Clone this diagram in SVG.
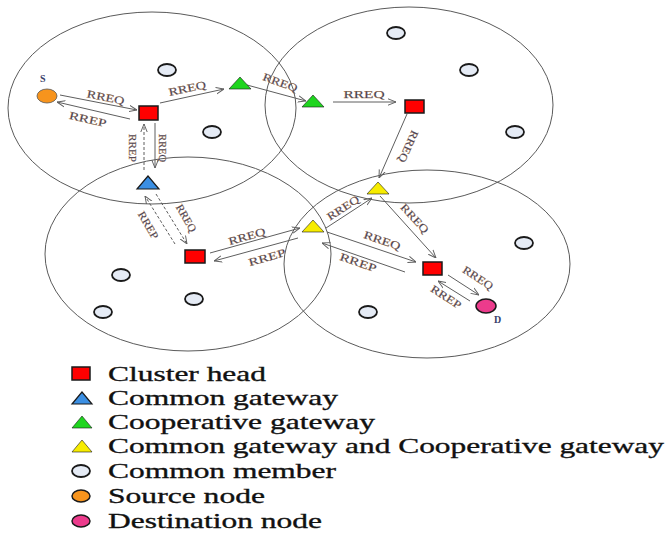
<svg xmlns="http://www.w3.org/2000/svg" width="666" height="534" viewBox="0 0 666 534">
  <style>
    .cluster { fill: none; stroke: #5a5a5a; stroke-width: 1; }
    .ch { fill: #ff0000; stroke: #1a1a1a; stroke-width: 1.5; }
    .gw-common { fill: #3b8fe3; stroke: #1a1a1a; stroke-width: 1.2; }
    .gw-coop { fill: #1fd51f; stroke: #1a1a1a; stroke-width: 0.6; }
    .gw-both { fill: #f7ec00; stroke: #1a1a1a; stroke-width: 0.6; }
    .member { fill: #e5ebf5; stroke: #1a1a1a; stroke-width: 1.8; }
    .src { fill: #f7941d; stroke: #555; stroke-width: 0.8; }
    .dst { fill: #ec3b8c; stroke: #1a1a1a; stroke-width: 1.5; }
    .link { stroke: #5e5e5e; stroke-width: 1; fill: none; marker-end: url(#ah); }
    .dash { stroke-dasharray: 3 2; }
    .lbl { font-family: "Liberation Serif", "DejaVu Serif", serif; font-size: 11px; fill: #2f3866; stroke: #b07a40; stroke-width: 0.25; text-anchor: middle; }
    .nodelbl { font-family: "Liberation Serif", "DejaVu Serif", serif; font-size: 10px; fill: #39406a; font-weight: bold; }
    .legend { font-family: "Liberation Serif", "DejaVu Serif", serif; font-size: 22px; fill: #111; stroke: #111; stroke-width: 0.35; }
  </style>
  <defs>
    <marker id="ah" viewBox="0 0 10 10" refX="10" refY="5" markerWidth="8" markerHeight="8" orient="auto" markerUnits="userSpaceOnUse">
      <path d="M0,1 L10,5 L0,9" fill="none" stroke="#5e5e5e" stroke-width="1.2"/>
    </marker>
  </defs>

  <rect width="666" height="534" fill="#ffffff"/>

  <!-- cluster ranges -->
  <g id="clusters">
    <ellipse class="cluster" cx="152" cy="108" rx="144" ry="96"/>
    <ellipse class="cluster" cx="409" cy="105" rx="144" ry="98"/>
    <ellipse class="cluster" cx="188" cy="254" rx="143" ry="97"/>
    <ellipse class="cluster" cx="427" cy="264" rx="143" ry="94"/>
  </g>

  <!-- route request / reply messages -->
  <g id="connectors">
    <line class="link" x1="60" y1="95" x2="137" y2="110"/>
    <line class="link" x1="130" y1="119" x2="57" y2="102"/>
    <line class="link" x1="160" y1="103" x2="224" y2="89"/>
    <line class="link" x1="247" y1="85" x2="306" y2="101"/>
    <line class="link" x1="333" y1="102" x2="396" y2="102"/>
    <line class="link" x1="407" y1="114" x2="379" y2="178"/>
    <line class="link" x1="326" y1="228" x2="372" y2="198"/>
    <line class="link" x1="380" y1="196" x2="436" y2="258"/>
    <line class="link" x1="327" y1="232" x2="416" y2="262"/>
    <line class="link" x1="405" y1="272" x2="322" y2="243"/>
    <line class="link" x1="448" y1="275" x2="479" y2="295"/>
    <line class="link" x1="470" y1="301" x2="438" y2="281"/>
    <line class="link" x1="210" y1="253" x2="300" y2="228"/>
    <line class="link" x1="298" y1="238" x2="214" y2="261"/>
    <line class="link dash" x1="144" y1="170" x2="144" y2="124"/>
    <line class="link" x1="155" y1="123" x2="155" y2="168"/>
    <line class="link dash" x1="175" y1="244" x2="145" y2="196"/>
    <line class="link dash" x1="156" y1="194" x2="187" y2="244"/>

    <text class="lbl" textLength="38" lengthAdjust="spacingAndGlyphs" transform="translate(105,101) rotate(11)">RREQ</text>
    <text class="lbl" textLength="38" lengthAdjust="spacingAndGlyphs" transform="translate(87,123) rotate(13)">RREP</text>
    <text class="lbl" textLength="38" lengthAdjust="spacingAndGlyphs" transform="translate(188,92) rotate(-12)">RREQ</text>
    <text class="lbl" textLength="36" lengthAdjust="spacingAndGlyphs" transform="translate(279,86) rotate(20)">RREQ</text>
    <text class="lbl" textLength="41" lengthAdjust="spacingAndGlyphs" transform="translate(364,98)">RREQ</text>
    <text class="lbl" textLength="34" lengthAdjust="spacingAndGlyphs" transform="translate(405,145) rotate(114)">RREQ</text>
    <text class="lbl" textLength="36" lengthAdjust="spacingAndGlyphs" transform="translate(345,211) rotate(-33)">RREQ</text>
    <text class="lbl" textLength="36" lengthAdjust="spacingAndGlyphs" transform="translate(412,221) rotate(47)">RREQ</text>
    <text class="lbl" textLength="38" lengthAdjust="spacingAndGlyphs" transform="translate(381,244) rotate(19)">RREQ</text>
    <text class="lbl" textLength="38" lengthAdjust="spacingAndGlyphs" transform="translate(357,266) rotate(19)">RREP</text>
    <text class="lbl" textLength="34" lengthAdjust="spacingAndGlyphs" transform="translate(476,281) rotate(33)">RREQ</text>
    <text class="lbl" textLength="34" lengthAdjust="spacingAndGlyphs" transform="translate(444,300) rotate(33)">RREP</text>
    <text class="lbl" textLength="38" lengthAdjust="spacingAndGlyphs" transform="translate(248,240) rotate(-16)">RREQ</text>
    <text class="lbl" textLength="38" lengthAdjust="spacingAndGlyphs" transform="translate(268,261) rotate(-16)">RREP</text>
    <text class="lbl" textLength="28" lengthAdjust="spacingAndGlyphs" transform="translate(129,148) rotate(90)">RREP</text>
    <text class="lbl" textLength="28" lengthAdjust="spacingAndGlyphs" transform="translate(159,148) rotate(90)">RREQ</text>
    <text class="lbl" textLength="30" lengthAdjust="spacingAndGlyphs" transform="translate(145,227) rotate(60)">RREP</text>
    <text class="lbl" textLength="30" lengthAdjust="spacingAndGlyphs" transform="translate(183,220) rotate(60)">RREQ</text>
  </g>

  <!-- common members -->
  <g id="members">
    <ellipse class="member" cx="167" cy="70" rx="9" ry="6"/>
    <ellipse class="member" cx="212" cy="132" rx="9" ry="6"/>
    <ellipse class="member" cx="396" cy="33" rx="9" ry="6"/>
    <ellipse class="member" cx="469" cy="70" rx="9" ry="6"/>
    <ellipse class="member" cx="515" cy="132" rx="9" ry="6"/>
    <ellipse class="member" cx="121" cy="275" rx="9" ry="6"/>
    <ellipse class="member" cx="194" cy="299" rx="9" ry="6"/>
    <ellipse class="member" cx="103" cy="312" rx="9" ry="6"/>
    <ellipse class="member" cx="524" cy="243" rx="9" ry="6"/>
    <ellipse class="member" cx="368" cy="312" rx="9" ry="6"/>
  </g>

  <g id="source">
    <ellipse class="src" cx="47" cy="96" rx="10" ry="7"/>
    <text class="nodelbl" x="40" y="82">S</text>
  </g>
  <g id="destination">
    <ellipse class="dst" cx="486" cy="306" rx="10" ry="7"/>
    <text class="nodelbl" x="494" y="323">D</text>
  </g>

  <g id="ch1"><rect class="ch" x="139" y="106" width="19" height="14"/></g>
  <g id="ch2"><rect class="ch" x="405" y="100" width="19" height="13"/></g>
  <g id="ch3"><rect class="ch" x="185" y="250" width="20" height="13"/></g>
  <g id="ch4"><rect class="ch" x="423" y="262" width="19" height="13"/></g>

  <g id="coop-gw1"><polygon class="gw-coop" points="240,77 229,89 251,89"/></g>
  <g id="coop-gw2"><polygon class="gw-coop" points="313,95 302,107 324,107"/></g>
  <g id="common-gw"><polygon class="gw-common" points="148,176 137,189 159,189"/></g>
  <g id="both-gw1"><polygon class="gw-both" points="378,182 367,194 389,194"/></g>
  <g id="both-gw2"><polygon class="gw-both" points="313,220 302,232 324,232"/></g>

  <!-- legend -->
  <g id="legend">
    <rect class="ch" x="72" y="367" width="18" height="13"/>
    <polygon class="gw-common" points="82,392 72,404 92,404"/>
    <polygon class="gw-coop" points="82,416 72,428 92,428"/>
    <polygon class="gw-both" points="82,440 72,452 92,452"/>
    <ellipse class="member" cx="81" cy="471" rx="9" ry="6"/>
    <ellipse class="src" cx="81" cy="496" rx="9" ry="6" style="stroke:#1a1a1a;stroke-width:1.5"/>
    <ellipse class="dst" cx="81" cy="521" rx="9" ry="6"/>

    <text class="legend" x="108" y="381" textLength="158" lengthAdjust="spacingAndGlyphs">Cluster head</text>
    <text class="legend" x="108" y="405" textLength="230" lengthAdjust="spacingAndGlyphs">Common gateway</text>
    <text class="legend" x="108" y="429" textLength="267" lengthAdjust="spacingAndGlyphs">Cooperative gateway</text>
    <text class="legend" x="108" y="453" textLength="556" lengthAdjust="spacingAndGlyphs">Common gateway and Cooperative gateway</text>
    <text class="legend" x="108" y="478" textLength="228" lengthAdjust="spacingAndGlyphs">Common member</text>
    <text class="legend" x="108" y="503" textLength="157" lengthAdjust="spacingAndGlyphs">Source node</text>
    <text class="legend" x="108" y="528" textLength="214" lengthAdjust="spacingAndGlyphs">Destination node</text>
  </g>
</svg>
